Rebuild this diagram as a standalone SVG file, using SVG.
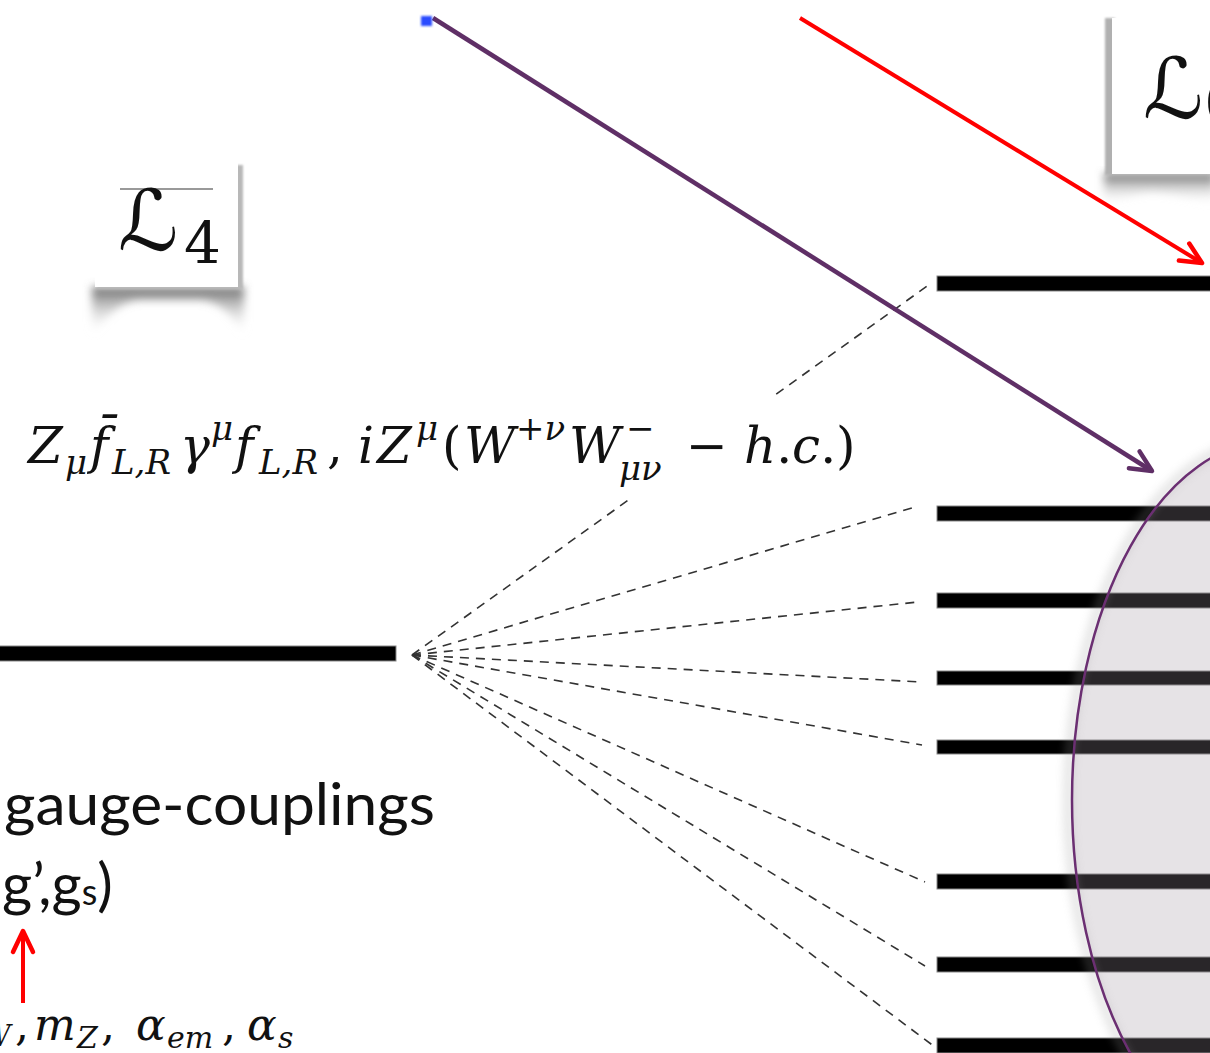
<svg xmlns="http://www.w3.org/2000/svg" width="1210" height="1053" viewBox="0 0 1210 1053">
<style>
.bar{fill:#000;stroke:#888;stroke-width:1}
.dash{stroke:#333;stroke-width:1.6;stroke-dasharray:9 7;fill:none}
.math{font-family:"DejaVu Serif","Liberation Serif",serif;font-style:italic;fill:#111}
.up{font-style:normal}
.sans{font-family:Lato,"Liberation Sans",sans-serif;fill:#111}
.script{font-family:"DejaVu Serif","DejaVu Sans",serif;fill:#111}
</style>
<defs>
<filter id="blur4" x="-20%" y="-20%" width="140%" height="140%"><feGaussianBlur stdDeviation="4"/></filter>
<filter id="blur2" x="-50%" y="-50%" width="200%" height="200%"><feGaussianBlur stdDeviation="1.2"/></filter>
<filter id="blur6" x="-20%" y="-20%" width="140%" height="140%"><feGaussianBlur stdDeviation="5"/></filter>
<linearGradient id="shL4" x1="0" y1="0" x2="0" y2="1"><stop offset="0" stop-color="#666"/><stop offset="1" stop-color="#fff" stop-opacity="0"/></linearGradient>
<marker id="mPurple" markerUnits="userSpaceOnUse" markerWidth="40" markerHeight="40" viewBox="-30 -20 40 40" refX="0" refY="0" orient="auto">
<path d="M-21,-10 L0,0 L-21,10" fill="none" stroke="#5f2f66" stroke-width="4.5" stroke-linecap="round" stroke-linejoin="round"/>
</marker>
<marker id="mRed" markerUnits="userSpaceOnUse" markerWidth="40" markerHeight="40" viewBox="-30 -20 40 40" refX="0" refY="0" orient="auto">
<path d="M-21,-10 L0,0 L-21,10" fill="none" stroke="#ff0000" stroke-width="4.5" stroke-linecap="round" stroke-linejoin="round"/>
</marker>
</defs>

<rect width="1210" height="1053" fill="#fff"/>

<g id="node-L4">
<path d="M92,287 H244 V336 C236,326 228,302 200,300 H140 C112,302 102,326 92,336 Z" fill="url(#shL4)" filter="url(#blur4)"/>
<rect x="98" y="165" width="145" height="124" fill="#b8b8b8" filter="url(#blur2)"/>
<rect x="95" y="163" width="143" height="124" fill="#fff"/>
<line x1="120" y1="189" x2="213" y2="189" stroke="#777" stroke-width="1.5"/>
<text class="script" x="118" y="250" font-size="84" font-style="italic">ℒ</text>
<text class="math up" x="184" y="263" font-size="58">4</text>
</g>

<g id="node-L6">
<path d="M1104,173 H1215 V205 C1190,198 1170,192 1150,192 C1130,194 1120,200 1104,205 Z" fill="url(#shL4)" filter="url(#blur4)"/>
<rect x="1105" y="18" width="10" height="157" fill="#b0b0b0" filter="url(#blur2)"/>
<rect x="1112" y="18" width="100" height="156" fill="#fff"/>
<text class="script" x="1143" y="118" font-size="84" font-style="italic">ℒ</text>
<text class="math up" x="1204" y="118" font-size="52">(</text>
</g>

<g id="node-left-bar">
<rect class="bar" x="-2" y="646" width="398" height="15"/>
</g>

<g id="node-right-bars">
<rect class="bar" x="937" y="276" width="280" height="15"/>
<rect class="bar" x="937" y="506" width="280" height="15"/>
<rect class="bar" x="937" y="593" width="280" height="15"/>
<rect class="bar" x="937" y="671" width="280" height="14"/>
<rect class="bar" x="937" y="740" width="280" height="14"/>
<rect class="bar" x="937" y="874" width="280" height="15"/>
<rect class="bar" x="937" y="957" width="280" height="15"/>
<rect class="bar" x="937" y="1038" width="280" height="15"/>
</g>

<g id="node-ellipse">
<ellipse cx="1268" cy="800" rx="200" ry="360" fill="none" stroke="#999" stroke-width="8" opacity="0.3" filter="url(#blur6)"/>
<ellipse cx="1272" cy="800" rx="200" ry="359" fill="rgb(160,145,160)" fill-opacity="0.26" stroke="#6b2f72" stroke-width="2.5"/>
</g>

<g id="connectors">
<line class="dash" x1="412" y1="655" x2="930" y2="284"/>
<line class="dash" x1="412" y1="655" x2="915" y2="507"/>
<line class="dash" x1="412" y1="655" x2="918" y2="602"/>
<line class="dash" x1="412" y1="655" x2="922" y2="682"/>
<line class="dash" x1="412" y1="655" x2="922" y2="745"/>
<line class="dash" x1="412" y1="655" x2="925" y2="882"/>
<line class="dash" x1="412" y1="655" x2="925" y2="966"/>
<line class="dash" x1="412" y1="655" x2="935" y2="1047"/>
<line x1="433" y1="18" x2="1152" y2="471" stroke="#5f2f66" stroke-width="4.5" marker-end="url(#mPurple)"/>
<line x1="800" y1="18" x2="1202" y2="263" stroke="#ff0000" stroke-width="4" marker-end="url(#mRed)"/>
<line x1="23" y1="1003" x2="23" y2="931" stroke="#ff0000" stroke-width="4" marker-end="url(#mRed)"/>
</g>

<g id="blue-mark">
<rect x="421" y="16" width="11" height="10" fill="#2a4bff" filter="url(#blur2)"/>
</g>

<g id="formula">
<rect x="18" y="396" width="845" height="104" fill="#fff"/>
<text class="math" font-size="50">
<tspan x="28" y="463">Z</tspan>
<tspan x="65" y="474" font-size="34">μ</tspan>
<tspan x="90" y="463">f̄</tspan>
<tspan x="112" y="474" font-size="34">L,R</tspan>
<tspan x="180" y="463">γ</tspan>
<tspan x="211" y="440" font-size="34">μ</tspan>
<tspan x="235" y="463">f</tspan>
<tspan x="259" y="474" font-size="34">L,R</tspan>
<tspan x="327" y="463" class="up">,</tspan>
<tspan x="358" y="463">i</tspan>
<tspan x="377" y="463">Z</tspan>
<tspan x="416" y="440" font-size="34">μ</tspan>
<tspan x="442" y="463" class="up">(</tspan>
<tspan x="464" y="463">W</tspan>
<tspan x="516" y="440" font-size="34" class="up">+</tspan><tspan y="440" font-size="34">ν</tspan>
<tspan x="569" y="463">W</tspan>
<tspan x="626" y="440" font-size="34" class="up">−</tspan>
<tspan x="619" y="480" font-size="34">μν</tspan>
<tspan x="686" y="463" class="up">−</tspan>
<tspan x="744" y="463">h</tspan><tspan y="463" class="up">.</tspan><tspan y="463">c</tspan><tspan y="463" class="up">.)</tspan>
</text>
</g>

<g id="label-gauge">
<text class="sans" x="4" y="825" font-size="58" textLength="431" lengthAdjust="spacingAndGlyphs">gauge-couplings</text>
<text class="sans" x="2" y="905" font-size="58"><tspan>g’,g</tspan><tspan font-size="36">s</tspan><tspan>)</tspan></text>
</g>

<g id="label-inputs">
<text class="math" font-size="44">
<tspan x="-20" y="1046" font-size="30">W</tspan>
<tspan x="15" y="1040" class="up">,</tspan>
<tspan x="34" y="1040">m</tspan>
<tspan x="77" y="1048" font-size="30">Z</tspan>
<tspan x="101" y="1040" class="up">,</tspan>
<tspan x="136" y="1040">α</tspan>
<tspan x="167" y="1048" font-size="30">em</tspan>
<tspan x="222" y="1040" class="up">,</tspan>
<tspan x="247" y="1040">α</tspan>
<tspan x="278" y="1048" font-size="30">s</tspan>
</text>
</g>
</svg>
